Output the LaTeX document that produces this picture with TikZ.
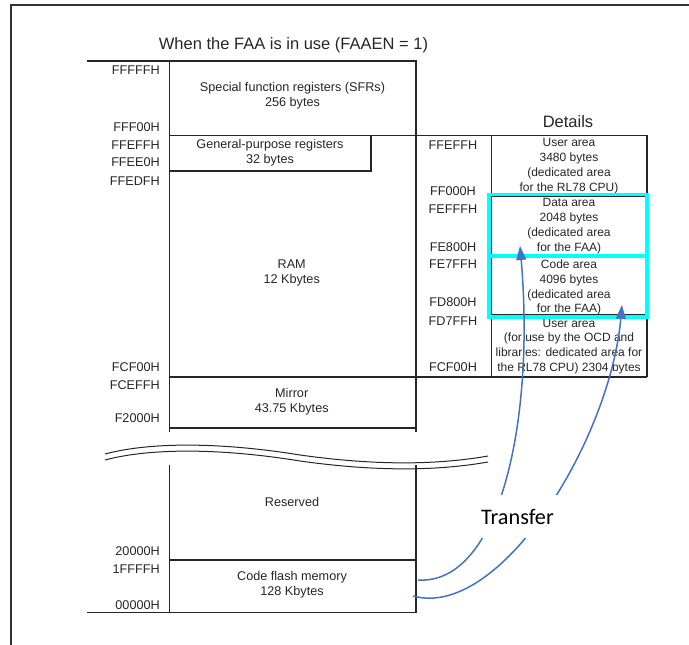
\documentclass[tikz,border=0pt]{standalone}
\usepackage{fontspec}
\setmainfont{Liberation Sans}
\newfontfamily\carlito{Carlito}
\usetikzlibrary{arrows.meta}
\definecolor{ink}{gray}{0.15}
\definecolor{brdcyan}{RGB}{0,255,255}
\definecolor{xferblue}{RGB}{68,114,196}
\begin{document}
\begin{tikzpicture}[x=1pt,y=-1pt,
  txt/.style={font=\fontsize{12.66}{14.8}\selectfont, text=ink, inner sep=0pt, align=center},
  dtxt/.style={font=\fontsize{12.0}{14.8}\selectfont, text=ink, inner sep=0pt, align=center},
  addrl/.style={txt, anchor=east},
  addrr/.style={txt},
  hdr/.style={font=\fontsize{16.5}{18}\selectfont, text=ink, inner sep=0pt},
  thinln/.style={draw=ink, line width=1pt},
  midln/.style={draw=ink, line width=1.4pt},
  thickln/.style={draw=ink, line width=2pt},
  frameln/.style={draw=black!80, line width=1.2pt},
  waveln/.style={draw=ink, line width=1pt},
  xfer/.style={draw=xferblue, line width=1.5pt, -{Triangle[length=14pt,width=10pt]}},
  hilite/.style={draw=brdcyan, line width=3.6pt}
]
\useasboundingbox (0,0) rectangle (689,645);
% outer frame
\draw[frameln] (11,645) -- (11,5) -- (689,5);

% title and header
\node[hdr] (title) at (293.5,45) {When the FAA is in use (FAAEN = 1)};
\node[hdr] (details) at (568,122) {Details};

% main memory map lines
\draw[thickln] (87,60.7) -- (416,60.7);
\draw[thinln] (169,60) -- (169,432);
\draw[midln] (416,60) -- (416,432);
\draw[thinln] (169,135) -- (647,135);
\draw[thickln] (169,171) -- (371,171) -- (371,135);
\draw[thickln] (169,376.5) -- (647,376.5);
\draw[thickln] (169,428) -- (416,428);
\draw[thinln] (169,465) -- (169,612.7);
\draw[midln] (416,465) -- (416,612.7);
\draw[thickln] (169,560) -- (416,560);
\draw[midln] (87,612.7) -- (416,612.7);

% details box
\draw[thinln] (491,135) -- (491,376.5);
\draw[thickln] (647,135) -- (647,376.5);
\draw[thinln] (491,196) -- (647,196);
\draw[thinln] (491,256) -- (647,256);
\draw[thinln] (491,314.5) -- (647,314.5);

% break lines
\draw[waveln] (105,454) .. controls (150,442) and (220,442) .. (300,455)
  .. controls (350,462) and (420,468) .. (488,456);
\draw[waveln] (105,460) .. controls (150,448) and (220,448) .. (300,461)
  .. controls (350,468) and (420,474) .. (488,462);

% left addresses
\node[addrl] (aFFFFF) at (160,70) {FFFFFH};
\node[addrl] (aFFF00) at (160,127) {FFF00H};
\node[addrl] (aFFEFF) at (160,145) {FFEFFH};
\node[addrl] (aFFEE0) at (160,162) {FFEE0H};
\node[addrl] (aFFEDF) at (160,180.7) {FFEDFH};
\node[addrl] (aFCF00) at (160,367.3) {FCF00H};
\node[addrl] (aFCEFF) at (160,385) {FCEFFH};
\node[addrl] (aF2000) at (160,418.3) {F2000H};
\node[addrl] (a20000) at (160,550.7) {20000H};
\node[addrl] (a1FFFF) at (160,569.3) {1FFFFH};
\node[addrl] (a00000) at (160,605) {00000H};

% main region texts
\node[txt] (sfr) at (292.5,95.5) {Special function registers (SFRs)\\256 bytes};
\node[txt] (gpr) at (270,153) {General-purpose registers\\32 bytes};
\node[txt] (ram) at (291.7,273) {RAM\\12 Kbytes};
\node[txt] (mirror) at (291.7,401.5) {Mirror\\43.75 Kbytes};
\node[txt] (reserved) at (292,502) {Reserved};
\node[txt] (flash) at (292,585) {Code flash memory\\128 Kbytes};

% detail addresses
\node[addrr] (dFFEFF) at (453,145) {FFEFFH};
\node[addrr] (dFF000) at (453,190.7) {FF000H};
\node[addrr] (dFEFFF) at (453,209) {FEFFFH};
\node[addrr] (dFE800) at (453,246.7) {FE800H};
\node[addrr] (dFE7FF) at (453,264) {FE7FFH};
\node[addrr] (dFD800) at (453,302) {FD800H};
\node[addrr] (dFD7FF) at (453,320.7) {FD7FFH};
\node[addrr] (dFCF00) at (453,366.7) {FCF00H};

% detail texts
\node[dtxt] (user1) at (569,166) {User area\\3480 bytes\\(dedicated area\\for the RL78 CPU)};
\node[dtxt] (data) at (569,226) {Data area\\2048 bytes\\(dedicated area\\for the FAA)};
\node[dtxt] (code) at (569,287.5) {Code area\\4096 bytes\\(dedicated area\\for the FAA)};
\node[dtxt] (user2) at (569,346.5) {User area\\(for use by the OCD and\\libraries: dedicated area for\\the RL78 CPU) 2304 bytes};

% cyan highlight
\draw[hilite] (489,194.5) rectangle (647,317);
\draw[hilite] (489,255.7) -- (647,255.7);

% transfer arrows
\coordinate (src1) at (418,580);
\coordinate (src2) at (413,596);
\coordinate (tip1) at (520,246);
\coordinate (tip2) at (622,305);
\draw[xfer] (src1) .. controls (500,585) and (535,420) .. (tip1);
\draw[xfer] (src2) .. controls (500,620) and (610,440) .. (tip2);
\node[fill=white, inner sep=0pt, minimum width=80pt, minimum height=43pt,
  font=\carlito\fontsize{22.2}{24}\selectfont, text=black] (transfer) at (517.5,516.5) {Transfer};
\end{tikzpicture}
\end{document}
